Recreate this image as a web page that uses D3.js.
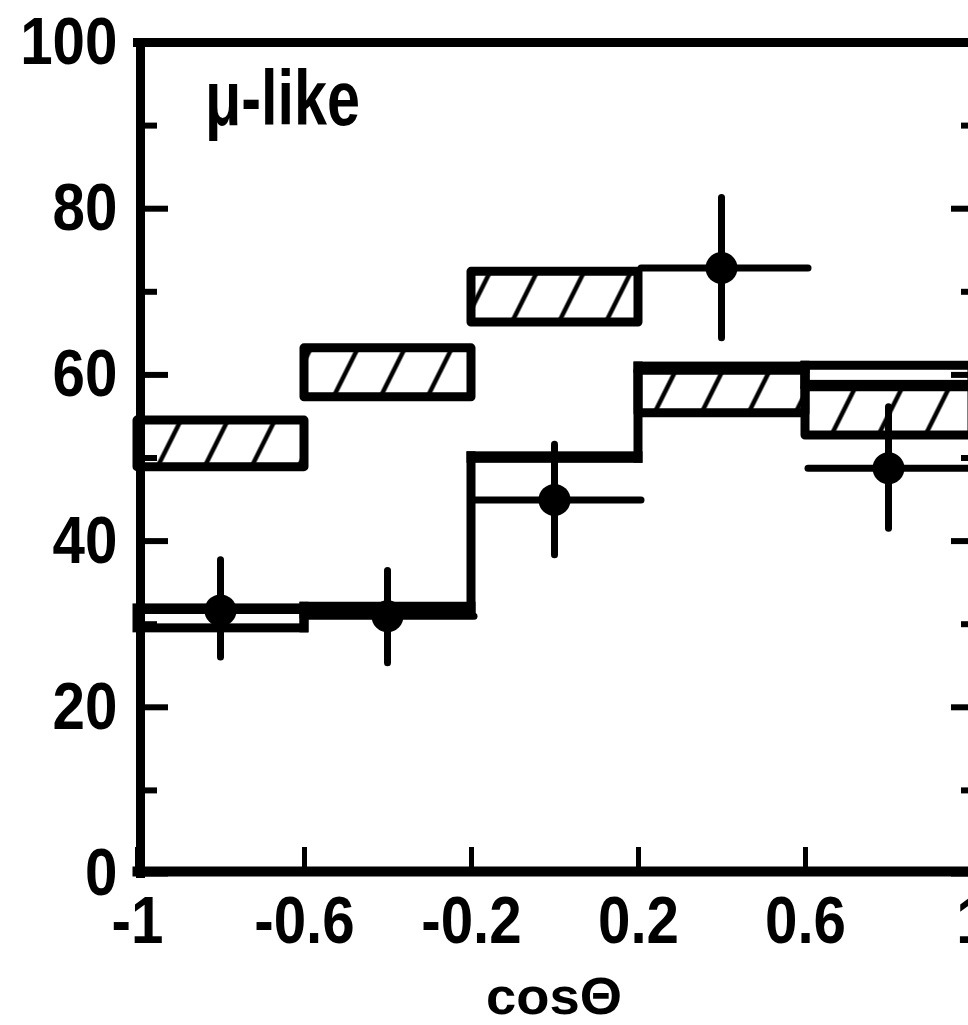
<!DOCTYPE html>
<html><head><meta charset="utf-8">
<script src="https://cdn.jsdelivr.net/npm/d3@7"></script>
<style>body{margin:0;background:#fff} svg{display:block}</style>
</head><body><svg id="c" width="968" height="1025"></svg>
<script>
// ---- data ----
const binEdges = [-1, -0.6, -0.2, 0.2, 0.6, 1];
const binCenters = [-0.8, -0.4, 0, 0.4, 0.8];
// expectation without oscillation (hatched band)
const noOscLo = [48.9, 57.3, 66.3, 55.4, 52.7];
const noOscHi = [54.5, 63.2, 72.4, 60.5, 58.5];
// expectation with oscillation (open step boxes)
const oscLo = [29.5, 31.2, 49.9, 60.7, 58.8];
const oscHi = [31.9, 32.1, 50.2, 61.0, 61.1];
// data points
const dataVal = [31.6, 30.9, 44.9, 72.8, 48.7];
const dataErrLo = [26.0, 25.3, 38.3, 64.4, 41.5];
const dataErrHi = [37.7, 36.4, 51.6, 81.3, 56.1];
// ticks
const yTicks = [0, 20, 40, 60, 80, 100];
const yMinor = [10, 30, 50, 70, 90];
const xTicks = [-1, -0.6, -0.2, 0.2, 0.6, 1];
const xTickLabels = ["-1", "-0.6", "-0.2", "0.2", "0.6", "1"];
const titleText = "μ-like";
const xTitle = "cosΘ";

// ---- chart ----
const svg = d3.select("#c");
const FONT = "'Liberation Sans', Arial, sans-serif";
const x = d3.scaleLinear().domain([-1, 1]).range([137, 972]);
const y = d3.scaleLinear().domain([0, 100]).range([873, 42]);

const defs = svg.append("defs");
defs.append("pattern").attr("id", "hatch").attr("patternUnits", "userSpaceOnUse")
  .attr("width", 47).attr("height", 200).attr("patternTransform", "skewX(-26.57)")
  .append("line").attr("x1", 15).attr("x2", 15).attr("y1", -10).attr("y2", 210)
  .attr("stroke", "#000").attr("stroke-width", 5);

const bins = binCenters.map((c, i) => ({i, x0: binEdges[i], x1: binEdges[i + 1]}));

// hatched boxes
svg.append("g").selectAll("rect").data(bins).join("rect")
  .attr("x", d => x(d.x0)).attr("width", d => x(d.x1) - x(d.x0))
  .attr("y", d => y(noOscHi[d.i])).attr("height", d => y(noOscLo[d.i]) - y(noOscHi[d.i]))
  .attr("fill", "url(#hatch)").attr("stroke", "#000").attr("stroke-width", 9)
  .attr("stroke-linejoin", "round");

// open step boxes
const gOsc = svg.append("g");
gOsc.selectAll("rect").data(bins).join("rect")
  .attr("x", d => x(d.x0)).attr("width", d => x(d.x1) - x(d.x0))
  .attr("y", d => y(oscHi[d.i])).attr("height", d => y(oscLo[d.i]) - y(oscHi[d.i]))
  .attr("fill", "none").attr("stroke", "#000").attr("stroke-width", 9)
  .attr("stroke-linejoin", "miter");
gOsc.selectAll("line").data(bins.slice(1)).join("line")
  .attr("x1", d => x(d.x0)).attr("x2", d => x(d.x0))
  .attr("y1", d => y(Math.max(oscHi[d.i - 1], oscHi[d.i])))
  .attr("y2", d => y(Math.min(oscLo[d.i - 1], oscLo[d.i])))
  .attr("stroke", "#000").attr("stroke-width", 9).attr("stroke-linecap", "square");

// data points
const gData = svg.append("g").attr("stroke", "#000").attr("stroke-width", 7).attr("stroke-linecap", "round");
gData.selectAll("line.v").data(bins).join("line").attr("class", "v")
  .attr("x1", d => x(binCenters[d.i])).attr("x2", d => x(binCenters[d.i]))
  .attr("y1", d => y(dataErrHi[d.i])).attr("y2", d => y(dataErrLo[d.i]));
gData.selectAll("line.h").data(bins).join("line").attr("class", "h")
  .attr("x1", d => x(d.x0) + 3).attr("x2", d => x(d.x1) + 3)
  .attr("y1", d => y(dataVal[d.i])).attr("y2", d => y(dataVal[d.i]));
svg.append("g").selectAll("circle").data(bins).join("circle")
  .attr("cx", d => x(binCenters[d.i])).attr("cy", d => y(dataVal[d.i])).attr("r", 16)
  .attr("fill", "#000");

// axes
function styleAxis(g, w) {
  g.select(".domain").attr("stroke-width", w).attr("stroke-linecap", "square");
  g.selectAll(".tick line").attr("stroke-width", 6);
}
const gl = svg.append("g").attr("transform", "translate(140,0)")
  .call(d3.axisLeft(y).tickValues(yTicks).tickSize(-28).tickSizeOuter(0).tickPadding(26).tickFormat(d3.format("d")));
styleAxis(gl, 9);
gl.selectAll(".tick text").attr("font-family", FONT).attr("font-weight", "bold").attr("font-size", 67)
  .attr("fill", "#000").attr("transform", "scale(0.87,1)");
svg.append("g").attr("transform", "translate(140,0)")
  .call(d3.axisLeft(y).tickValues(yMinor).tickSize(-17).tickFormat(""))
  .call(g => { g.select(".domain").remove(); g.selectAll(".tick line").attr("stroke-width", 6); });

const gr = svg.append("g").attr("transform", "translate(973,0)")
  .call(d3.axisRight(y).tickValues(yTicks).tickSize(-22).tickSizeOuter(0).tickFormat(""));
styleAxis(gr, 9);
svg.append("g").attr("transform", "translate(973,0)")
  .call(d3.axisRight(y).tickValues(yMinor).tickSize(-12).tickFormat(""))
  .call(g => { g.select(".domain").remove(); g.selectAll(".tick line").attr("stroke-width", 6); });

const gt = svg.append("g").attr("transform", "translate(0,42)")
  .call(d3.axisTop(x).tickValues([]).tickSizeOuter(0));
styleAxis(gt, 9);

const gb = svg.append("g").attr("transform", "translate(0,871)")
  .call(d3.axisBottom(x).tickValues(xTicks).tickSize(-24).tickSizeOuter(0).tickPadding(24)
    .tickFormat((d, i) => xTickLabels[i]));
styleAxis(gb, 10);
gb.selectAll(".tick line").attr("stroke-width", 5);
gb.selectAll(".tick text").attr("font-family", FONT).attr("font-weight", "bold").attr("font-size", 67)
  .attr("fill", "#000").attr("transform", "scale(0.87,1)");

// labels
svg.append("text").attr("x", 205).attr("y", 125).text(titleText)
  .attr("font-family", FONT).attr("font-weight", "bold").attr("font-size", 78)
  .attr("textLength", 155).attr("lengthAdjust", "spacingAndGlyphs");
svg.append("text").attr("x", 554).attr("y", 1014).attr("text-anchor", "middle").text(xTitle)
  .attr("font-family", FONT).attr("font-weight", "bold").attr("font-size", 52)
  .attr("textLength", 136).attr("lengthAdjust", "spacingAndGlyphs");
</script></body></html>
